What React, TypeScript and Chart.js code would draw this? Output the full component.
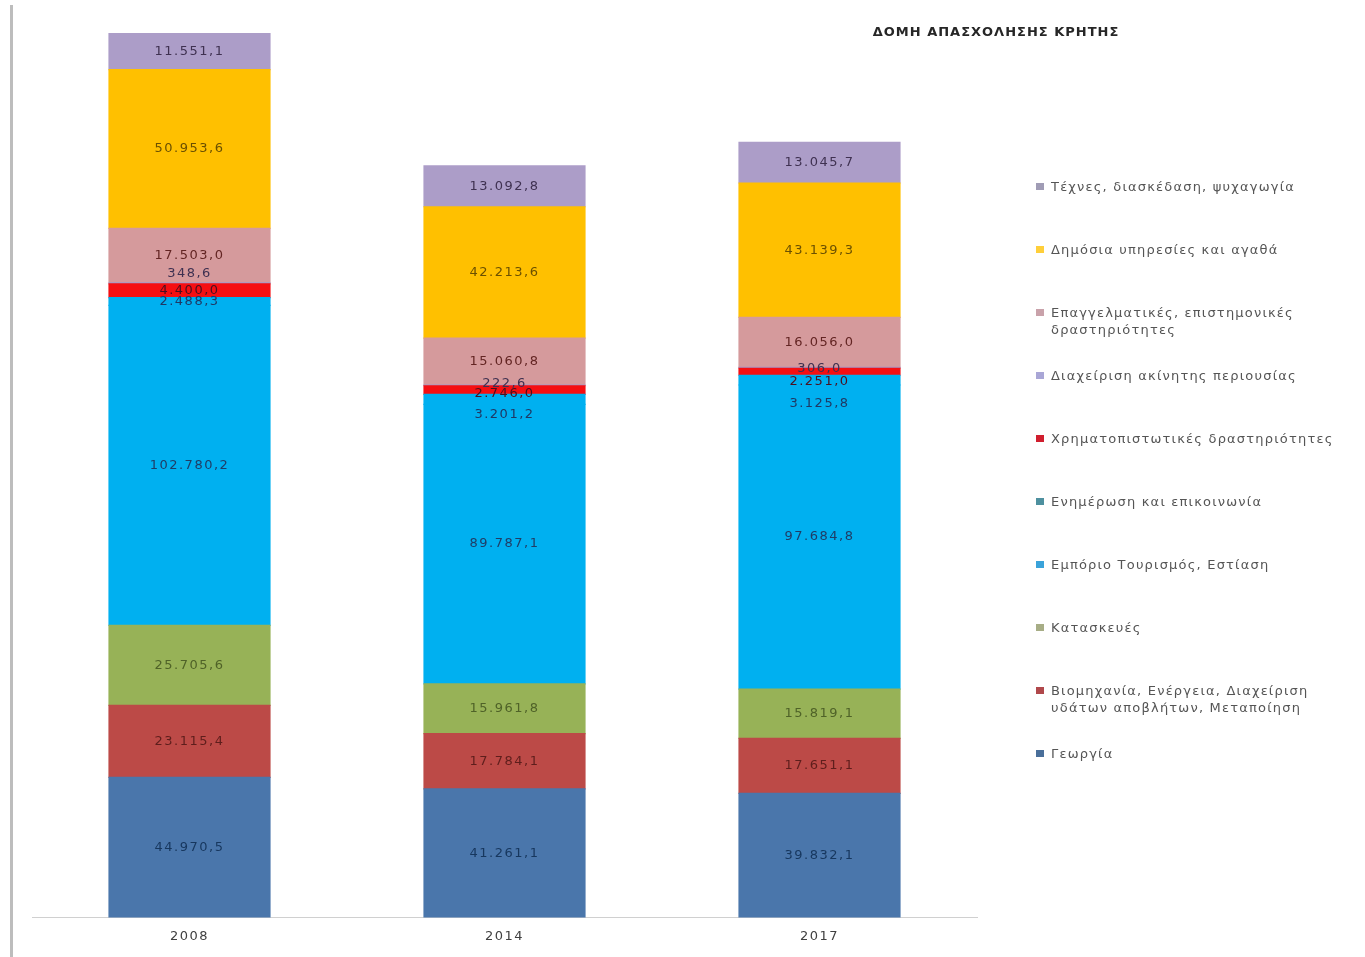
import React, { useEffect, useRef } from 'react';
import { Chart, registerables } from 'chart.js';

Chart.register(...registerables);

// ---- data ----
const years = ['2008', '2014', '2017'];
const agriculture = [44970.5, 41261.1, 39832.1];
const industry = [23115.4, 17784.1, 17651.1];
const construction = [25705.6, 15961.8, 15819.1];
const trade = [102780.2, 89787.1, 97684.8];
const information = [2488.3, 3201.2, 3125.8];
const finance = [4400.0, 2746.0, 2251.0];
const realEstate = [348.6, 222.6, 306.0];
const professional = [17503.0, 15060.8, 16056.0];
const publicServices = [50953.6, 42213.6, 43139.3];
const arts = [11551.1, 13092.8, 13045.7];

const seriesNames = [
  'Γεωργία',
  'Βιομηχανία, Ενέργεια, Διαχείριση\nυδάτων αποβλήτων, Μεταποίηση',
  'Κατασκευές',
  'Εμπόριο Τουρισμός, Εστίαση',
  'Ενημέρωση και επικοινωνία',
  'Χρηματοπιστωτικές δραστηριότητες',
  'Διαχείριση ακίνητης περιουσίας',
  'Επαγγελματικές, επιστημονικές\nδραστηριότητες',
  'Δημόσια υπηρεσίες και αγαθά',
  'Τέχνες, διασκέδαση, ψυχαγωγία',
];
const seriesValues = [agriculture, industry, construction, trade, information, finance, realEstate, professional, publicServices, arts];

// ---- styles ----
const barColors = ['#4A76AB', '#BC4A47', '#97B257', '#00B0F0', '#00B0F0', '#F50F12', '#A598C8', '#D59A9C', '#FFC000', '#AC9DC8'];
const legendColors = ['#4A6F9A', '#B0484B', '#A7AD86', '#3AA3DA', '#4E909F', '#D01E2E', '#A9A6D6', '#C9A2AA', '#FFCF3A', '#A09CB5'];
const labelColors = ['#17375E', '#5E1E1C', '#4F6228', '#1F3D66', '#1F3864', '#4A1020', '#3F3151', '#632523', '#6B5000', '#3F3151'];
// small vertical nudges (px) for labels of thin segments, per series / year
const labelNudge: Record<number, number[]> = {
  4: [0, 15, 23],
  5: [0, 4, 10],
  6: [-10, -2, 1],
};

const fmt = (v: number) => {
  const [i, d] = v.toFixed(1).split('.');
  return i.replace(/\B(?=(\d{3})+(?!\d))/g, '.') + ',' + d;
};

const labelPlugin = {
  id: 'segLabels',
  beforeDraw(chart: any) {
    chart.ctx.letterSpacing = '1.5px';
  },
  afterDatasetsDraw(chart: any) {
    const ctx = chart.ctx;
    ctx.save();
    ctx.letterSpacing = '1.5px';
    ctx.font = '13px "DejaVu Sans"';
    ctx.textAlign = 'center';
    ctx.textBaseline = 'middle';
    chart.data.datasets.forEach((ds: any, i: number) => {
      const meta = chart.getDatasetMeta(i);
      meta.data.forEach((el: any, j: number) => {
        const nudge = labelNudge[i] ? labelNudge[i][j] : 0;
        const cy = (el.y + el.base) / 2 + nudge;
        ctx.fillStyle = labelColors[i];
        ctx.fillText(fmt(ds.data[j]), el.x, cy);
      });
    });
    ctx.restore();
  },
};

export default function App() {
  const ref = useRef<HTMLCanvasElement>(null);

  useEffect(() => {
    if (!ref.current) return;
    const chart = new Chart(ref.current, {
      type: 'bar',
      data: {
        labels: years,
        datasets: seriesValues.map((vals, i) => ({
          label: seriesNames[i],
          data: vals,
          backgroundColor: barColors[i],
          borderWidth: 0,
          inflateAmount: 0.6,
          categoryPercentage: 1,
          barPercentage: 0.511,
        })),
      },
      options: {
        responsive: false,
        animation: false,
        layout: { padding: { left: 32, right: 388, top: 30, bottom: 2 } },
        plugins: {
          legend: { display: false },
          title: { display: false },
          tooltip: { enabled: false },
        },
        scales: {
          x: {
            stacked: true,
            grid: { display: false, drawTicks: false },
            border: { display: true, color: '#d0d0d0', width: 1 },
            ticks: { color: '#404040', font: { family: 'DejaVu Sans', size: 13 }, padding: 11 },
          },
          y: {
            stacked: true,
            display: false,
            min: 0,
            max: 285000,
          },
        },
      },
      plugins: [labelPlugin],
    });
    return () => chart.destroy();
  }, []);

  const legendOrder = seriesNames.map((_, i) => i).reverse();

  return (
    <div style={{ position: 'absolute', left: 0, top: 0, width: 1365, height: 957, background: '#fff', overflow: 'hidden' }}>
      <canvas ref={ref} width={1365} height={957} style={{ position: 'absolute', left: 0, top: 0 }} />
      <div style={{ position: 'absolute', left: 10, top: 5, width: 3, height: 952, background: '#bdbdbd' }} />
      <div
        style={{
          position: 'absolute',
          left: 846,
          width: 300,
          top: 23,
          textAlign: 'center',
          font: 'bold 13px "DejaVu Sans"',
          letterSpacing: '1px',
          color: '#262626',
          lineHeight: '18px',
        }}
      >
        ΔΟΜΗ ΑΠΑΣΧΟΛΗΣΗΣ ΚΡΗΤΗΣ
      </div>
      <div style={{ position: 'absolute', left: 1036, top: 178 }}>
        {legendOrder.map((i) => (
          <div key={i} style={{ height: 63, display: 'flex', alignItems: 'flex-start' }}>
            <div style={{ width: 8, height: 7, marginTop: 5, marginRight: 7, background: legendColors[i], flex: 'none' }} />
            <div
              style={{
                font: '13px "DejaVu Sans"',
                letterSpacing: '1.2px',
                lineHeight: '17px',
                color: '#555',
                whiteSpace: 'pre',
              }}
            >
              {seriesNames[i]}
            </div>
          </div>
        ))}
      </div>
    </div>
  );
}
